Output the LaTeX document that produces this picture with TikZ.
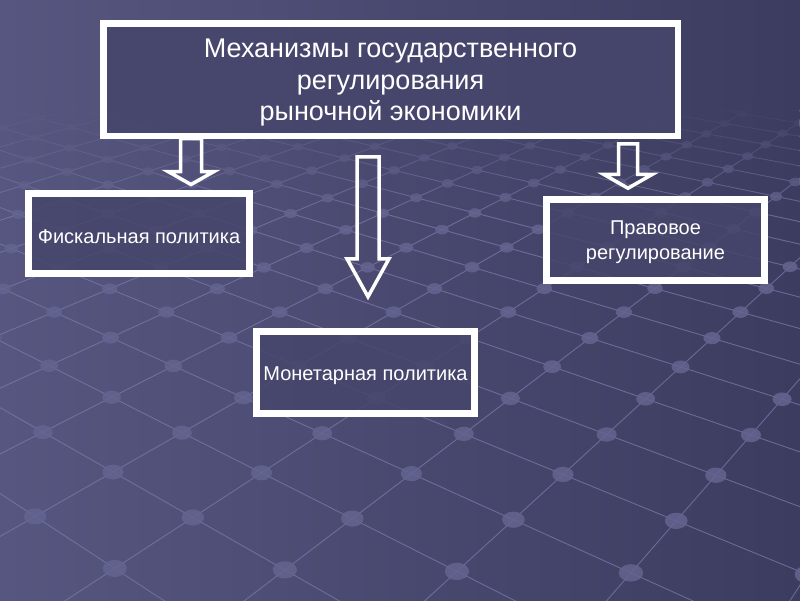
\documentclass[tikz,border=0pt]{standalone}
\usepackage{fontspec}
\setmainfont{Liberation Sans}
\usetikzlibrary{fadings,positioning}
\definecolor{fonL}{RGB}{86,86,128}
\definecolor{fonR}{RGB}{60,60,96}
\definecolor{blokfon}{RGB}{70,70,108}
\definecolor{setka}{RGB}{125,125,170}
\definecolor{uzel}{RGB}{100,100,144}

\begin{document}
\begin{tikzpicture}[x=1pt,y=-1pt,
    declare function={gridw(\a,\b)=1+0.0608*\a+0.0657*\b;
      gridx(\a,\b)=(80.01*\a-67.21*\b+113)/gridw(\a,\b);
      gridy(\a,\b)=(-13.01*\a-11.50*\b+472)/gridw(\a,\b);},
    blok/.style={draw=white, line width=6.5pt, fill=blokfon, fill opacity=0.85,
      inner sep=0pt},
    bloktext/.style={text=white, inner sep=0pt, align=center},
    strelka/.style={draw=white, line width=3.5pt, line join=miter},
    gridline/.style={setka, line width=0.9pt, opacity=0.7},
    griddot/.style={uzel, opacity=0.85},
    pics/blockdown/.style n args={4}{code={
      \draw[strelka] (0,0) -- (-#3,-#4) -- (-#2,-#4) -- (-#2,-#1)
        -- (#2,-#1) -- (#2,-#4) -- (#3,-#4) -- cycle;}}]
  \useasboundingbox (0,0) rectangle (800,600);
  % Фон
  \shade[left color=fonL, right color=fonR] (0,0) rectangle (800,600);
  % Сетка
  \begin{scope}
    \clip (0,110) rectangle (800,600);
    \foreach \u in {-4,...,24}
      \draw[gridline] ({gridx(\u,-8)},{gridy(\u,-8)}) -- ({gridx(\u,14)},{gridy(\u,14)});
    \foreach \v in {-8,...,14}
      \draw[gridline] ({gridx(-4,\v)},{gridy(-4,\v)}) -- ({gridx(24,\v)},{gridy(24,\v)});
    \foreach \u in {-4,...,24}
      \foreach \v in {-8,...,14}
        \fill[griddot] ({gridx(\u,\v)},{gridy(\u,\v)})
          ellipse ({10.5/gridw(\u,\v)} and {7.5/gridw(\u,\v)});
  \end{scope}
  \shade[left color=fonL, right color=fonR, path fading=south] (0,100) rectangle (800,210);

  % Блоки
  \node[blok, minimum width=574.5pt, minimum height=112.5pt] (meh) at (390.5,79.5) {};
  \node[blok, line width=7pt, minimum width=221pt, minimum height=80pt] (fisk) at (139,233.5) {};
  \node[blok, minimum width=218pt, minimum height=81pt] (pravo) at (655.5,240) {};
  \node[blok, minimum width=218pt, minimum height=82pt] (monet) at (365.5,372.5) {};
  % Подписи
  \node[bloktext, font=\fontsize{27}{31.5}\selectfont] (mehT) at ([yshift=-3.5pt]meh.center)
    {Механизмы государственного\\регулирования\\рыночной экономики};
  \node[bloktext, font=\fontsize{20}{24}\selectfont] (fiskT) at ([yshift=-3pt]fisk.center)
    {Фискальная политика};
  \node[bloktext, font=\fontsize{20}{25.5}\selectfont] (pravoT) at ([yshift=-2pt]pravo.center)
    {Правовое\\регулирование};
  \node[bloktext, font=\fontsize{20}{24}\selectfont] (monetT) at ([yshift=-3pt]monet.center)
    {Монетарная политика};

  % Стрелки
  \path (fisk.north) ++(52,-5.5) coordinate (tipF);
  \path (monet.north) ++(2.5,-31.5) coordinate (tipM);
  \path (pravo.north) ++(-27.5,-8) coordinate (tipP);
  \pic at (tipF) {blockdown={46}{10.5}{23}{13}};
  \pic at (tipM) {blockdown={140}{11}{21}{38}};
  \pic at (tipP) {blockdown={44.5}{9.5}{24.5}{14}};
\end{tikzpicture}
\end{document}
